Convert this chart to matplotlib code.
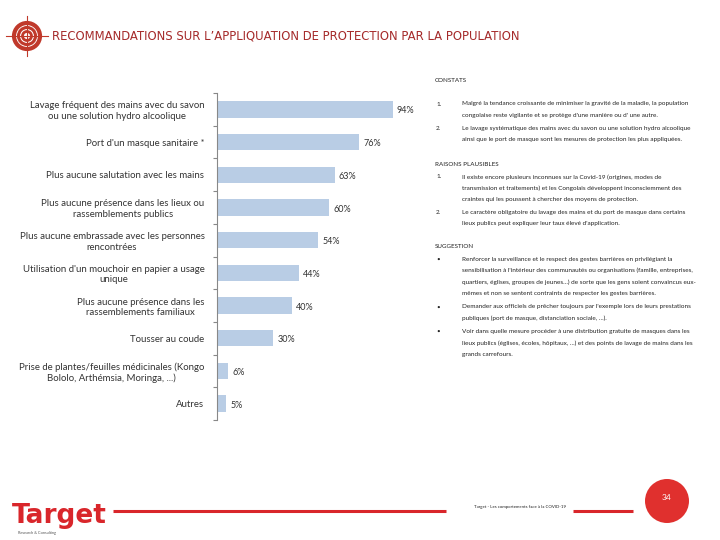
import numpy as np
import matplotlib.pyplot as plt
from matplotlib.patches import Circle

categories = [
    "Lavage fréquent des mains avec du savon\nou une solution hydro alcoolique",
    "Port d'un masque sanitaire *",
    "Plus aucune salutation avec les mains",
    "Plus aucune présence dans les lieux ou\nrassemblements publics",
    "Plus aucune embrassade avec les personnes\nrencontrées",
    "Utilisation d'un mouchoir en papier a usage\nunique",
    "Plus aucune présence dans les\nrassemblements familiaux",
    "Tousser au coude",
    "Prise de plantes/feuilles médicinales (Kongo\nBololo, Arthémsia, Moringa, ...)",
    "Autres",
]
values = [94, 76, 63, 60, 54, 44, 40, 30, 6, 5]

title = "RECOMMANDATIONS SUR L\u2019APPLIQUATION DE PROTECTION PAR LA POPULATION"

constats = [
    ("1.", ["Malgré la tendance croissante de minimiser la gravité de la maladie, la population",
            "congolaise reste vigilante et se protège d'une manière ou d' une autre."]),
    ("2.", ["Le lavage systématique des mains avec du savon ou une solution hydro alcoolique",
            "ainsi que le port de masque sont les mesures de protection les plus appliquées."]),
]
raisons = [
    ("1.", ["Il existe encore plusieurs inconnues sur la Covid-19 (origines, modes de",
            "transmission et traitements) et les Congolais développent inconsciemment des",
            "craintes qui les poussent à chercher des moyens de protection."]),
    ("2.", ["Le caractère obligatoire du lavage des mains et du port de masque dans certains",
            "lieux publics peut expliquer leur taux élevé d'application."]),
]
suggestions = [
    ("\u2022", ["Renforcer la surveillance et le respect des gestes barrières en privilégiant la",
                "sensibilisation à l'intérieur des communautés ou organisations (famille, entreprises,",
                "quartiers, églises, groupes de jeunes…) de sorte que les gens soient convaincus eux-",
                "mêmes et non se sentent contraints de respecter les gestes barrières."]),
    ("\u2022", ["Demander aux officiels de prêcher toujours par l'exemple lors de leurs prestations",
                "publiques (port de masque, distanciation sociale, …).",]),
    ("\u2022", ["Voir dans quelle mesure procéder à une distribution gratuite de masques dans les",
                "lieux publics (églises, écoles, hôpitaux, …) et des points de lavage de mains dans les",
                "grands carrefours."]),
]

RED = "#a52a2a"
BRIGHT = "#e0302e"
BAR = "#b9cde5"
TXT = "#333333"
FONT = ["Lato", "DejaVu Sans"]

fig = plt.figure(figsize=(7.2, 5.4), dpi=100)

# background layer in pixel coordinates
bg = fig.add_axes([0, 0, 1, 1])
bg.set_xlim(0, 720)
bg.set_ylim(540, 0)
bg.axis("off")

# title logo (target)
bg.add_patch(Circle((27, 36), 13, fill=False, ec="#c0392b", lw=3.0))
bg.add_patch(Circle((27, 36), 8.5, fill=False, ec="#c0392b", lw=2.2))
bg.add_patch(Circle((27, 36), 4.5, fill=False, ec="#c0392b", lw=2.0))
bg.plot([6, 48], [36, 36], color="#c0392b", lw=0.8)
bg.plot([27, 27], [16, 56], color="#c0392b", lw=0.8)
bg.text(52, 36, title, color=RED, fontsize=8.4, va="center", ha="left",
        family=["Liberation Sans Narrow", "DejaVu Sans"])

# right column text
def block(y, header, items, step):
    bg.text(435, y, header, fontsize=4.5, color="#222222", va="center", family=FONT)
    y += 24 if header == "CONSTATS" else 12
    for num, lines in items:
        bg.text(436, y, num, fontsize=4.5, color="#222222", va="center", family=FONT)
        for ln in lines:
            bg.text(462, y, ln, fontsize=4.6, color="#222222", va="center", family=FONT)
            y += step
        y += 1.5
    return y

block(80, "CONSTATS", constats, 11.5)
block(165, "RAISONS PLAUSIBLES", raisons, 11.3)
block(247, "SUGGESTION", suggestions, 11.6)

# footer
bg.plot([113, 446], [511, 511], color="#d9262b", lw=2.2, solid_capstyle="butt")
bg.plot([573, 633], [511, 511], color="#d9262b", lw=2.2, solid_capstyle="butt")
bg.text(520, 507, "Target - Les comportements face à la COVID-19", fontsize=3.2,
        ha="center", va="center", color="#222222", family=FONT)
bg.add_patch(Circle((667, 501), 22, color=BRIGHT, ec="none"))
bg.text(667, 498, "34", color="white", fontsize=6, ha="center", va="center", family=FONT)
bg.text(12, 516, "Target", color="#d9262b", fontsize=19, fontweight="bold",
        ha="left", va="center", family=["Liberation Sans Narrow", "DejaVu Sans"])
bg.text(18, 533, "Research & Consulting", color="#555555", fontsize=2.8,
        ha="left", va="center", family=FONT)

# bar chart
ax = fig.add_axes([217 / 720, 120 / 540, 187 / 720, 327 / 540])
y = np.arange(len(categories))
ax.barh(y, values, height=0.5, color=BAR)
ax.set_xlim(0, 100)
ax.set_ylim(len(categories) - 0.5, -0.5)
for yi, v in zip(y, values):
    ax.text(v + 2.2, yi + 0.05, f"{v}%", va="center", ha="left", fontsize=6.5,
            color=TXT, family=FONT)

ax.set_yticks(y)
ax.set_yticklabels(categories, fontsize=6.9, color=TXT, family=FONT, multialignment="center")
ax.tick_params(axis="y", which="major", length=0, pad=9)
ax.set_yticks(np.arange(-0.5, len(categories), 1), minor=True)
ax.tick_params(axis="y", which="minor", length=3, color="#888888", width=0.8)
ax.set_xticks([])
for s in ["top", "right", "bottom"]:
    ax.spines[s].set_visible(False)
ax.spines["left"].set_color("#888888")
ax.spines["left"].set_linewidth(0.8)
ax.patch.set_alpha(0)

fig.savefig("out.png", dpi=100)
